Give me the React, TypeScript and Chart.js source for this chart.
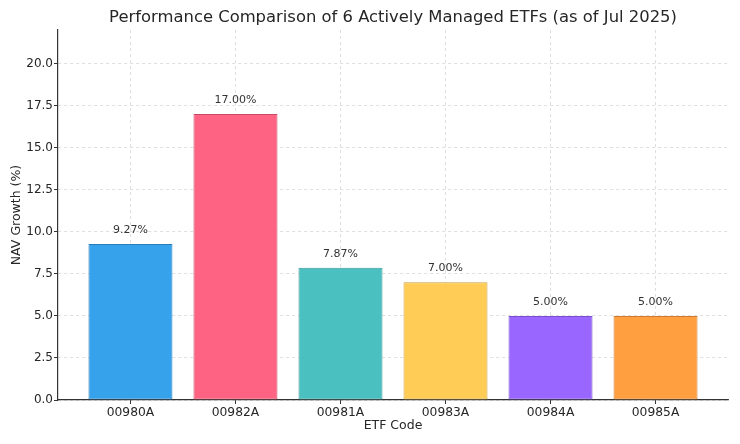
import React, { useEffect, useRef } from "react";
import { Chart, registerables } from "chart.js";

Chart.register(...registerables);

const categories: string[] = ["00980A", "00982A", "00981A", "00983A", "00984A", "00985A"];
const navGrowth: number[] = [9.27, 17.0, 7.87, 7.0, 5.0, 5.0];
const fillColors: string[] = [
  "rgb(54,162,235)",
  "rgb(255,99,132)",
  "rgb(75,192,192)",
  "rgb(255,205,86)",
  "rgb(153,102,255)",
  "rgb(255,159,64)",
];
const edgeColors: string[] = [
  "rgb(40,125,185)",
  "rgb(200,75,100)",
  "rgb(58,150,150)",
  "rgb(205,160,60)",
  "rgb(120,80,205)",
  "rgb(205,125,45)",
];
const yTickValues: number[] = [0, 2.5, 5, 7.5, 10, 12.5, 15, 17.5, 20];
const chartTitle = "Performance Comparison of 6 Actively Managed ETFs (as of Jul 2025)";
const xTitle = "ETF Code";
const yTitle = "NAV Growth (%)";

const FONT = "'DejaVu Sans', sans-serif";
const TEXT = "#262626";

export default function App() {
  const ref = useRef<HTMLCanvasElement | null>(null);

  useEffect(() => {
    document.body.style.margin = "0";
    const canvas = ref.current;
    if (!canvas) return;

    const textPlugin = {
      id: "textPlugin",
      afterDraw(chart: any) {
        const { ctx, chartArea } = chart;
        ctx.save();
        ctx.fillStyle = TEXT;
        ctx.font = `16.4px ${FONT}`;
        ctx.textAlign = "center";
        ctx.textBaseline = "middle";
        ctx.fillText(chartTitle, (chartArea.left + chartArea.right) / 2, 18);
        ctx.font = `12.5px ${FONT}`;
        ctx.fillText(xTitle, (chartArea.left + chartArea.right) / 2, 426);
        ctx.save();
        ctx.translate(17, (chartArea.top + chartArea.bottom) / 2);
        ctx.rotate(-Math.PI / 2);
        ctx.fillText(yTitle, 0, 0);
        ctx.restore();
        ctx.font = `11px ${FONT}`;
        ctx.fillStyle = "#333333";
        const meta = chart.getDatasetMeta(0);
        meta.data.forEach((bar: any, i: number) => {
          ctx.fillText(navGrowth[i].toFixed(2) + "%", bar.x, bar.y - 14);
        });
        ctx.restore();
      },
    };

    const chart = new Chart(canvas, {
      type: "bar",
      data: {
        datasets: [
          {
            data: navGrowth.map((v, i) => ({ x: i, y: v })),
            backgroundColor: fillColors,
            borderColor: edgeColors,
            borderWidth: 1,
            borderSkipped: false,
            barPercentage: 0.8,
            categoryPercentage: 1,
          },
        ],
      },
      options: {
        responsive: false,
        animation: false,
        devicePixelRatio: 1,
        layout: { padding: { left: 0, right: 12, top: 30, bottom: 0 } },
        plugins: {
          legend: { display: false },
          title: { display: false },
          tooltip: { enabled: false },
        },
        scales: {
          x: {
            type: "linear",
            min: -0.69,
            max: 5.69,
            offset: false,
            z: 1,
            afterBuildTicks: (scale: any) => {
              scale.ticks = categories.map((_, i) => ({ value: i }));
            },
            afterFit: (scale: any) => {
              scale.height = 44;
            },
            ticks: {
              autoSkip: false,
              maxRotation: 0,
              padding: 1,
              color: TEXT,
              font: { family: FONT, size: 12.3 },
              callback: (v: any) => categories[v] ?? "",
            },
            grid: {
              offset: false,
              color: "rgba(0,0,0,0.16)",
              lineWidth: 0.8,
              tickColor: "#333333",
              tickLength: 4,
              tickWidth: 1,
            },
            border: { display: true, color: "#333333", width: 1.2, dash: [3, 3] },
          },
          y: {
            type: "linear",
            min: 0,
            max: 22,
            z: 1,
            afterBuildTicks: (scale: any) => {
              scale.ticks = yTickValues.map((v) => ({ value: v }));
            },
            afterFit: (scale: any) => {
              scale.width = 58;
            },
            ticks: {
              padding: 1,
              color: TEXT,
              font: { family: FONT, size: 12 },
              callback: (v: any) => Number(v).toFixed(1),
            },
            grid: {
              color: "rgba(0,0,0,0.16)",
              lineWidth: 0.8,
              tickColor: "#333333",
              tickLength: 4,
              tickWidth: 1,
            },
            border: { display: true, color: "#333333", width: 1.2, dash: [3, 3] },
          },
        },
      },
      plugins: [textPlugin],
    } as any);

    return () => chart.destroy();
  }, []);

  return <canvas ref={ref} width={740} height={444} style={{ display: "block" }} />;
}
